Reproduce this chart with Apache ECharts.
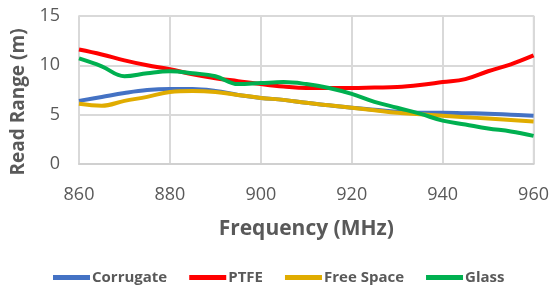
<!DOCTYPE html>
<html>
<head>
<meta charset="utf-8">
<script src="https://cdn.jsdelivr.net/npm/echarts@6/dist/echarts.min.js"></script>
<style>
html, body { margin: 0; padding: 0; background: #fff; }
#chart { width: 552px; height: 287px; }
</style>
</head>
<body>
<div id="chart"></div>
<script>
// frequency in MHz, read range in metres
var freq = [860, 865, 870, 875, 880, 885, 890, 895, 900, 905, 910, 915, 920, 925, 930, 935, 940, 945, 950, 955, 960]
var corrugate = [6.4, 6.8, 7.2, 7.5, 7.6, 7.6, 7.4, 7.0, 6.7, 6.5, 6.2, 5.95, 5.7, 5.5, 5.3, 5.2, 5.2, 5.15, 5.1, 5.0, 4.9]
var ptfe = [11.6, 11.1, 10.5, 10.0, 9.6, 9.1, 8.7, 8.4, 8.1, 7.85, 7.7, 7.7, 7.7, 7.75, 7.8, 8.0, 8.3, 8.6, 9.4, 10.1, 11.0]
var freeSpace = [6.1, 5.9, 6.4, 6.8, 7.3, 7.4, 7.3, 7.0, 6.7, 6.5, 6.2, 5.95, 5.7, 5.45, 5.2, 5.05, 4.9, 4.75, 4.6, 4.45, 4.3]
var glass = [10.7, 9.9, 8.9, 9.2, 9.4, 9.2, 8.9, 8.1, 8.2, 8.3, 8.1, 7.7, 7.1, 6.3, 5.7, 5.1, 4.4, 4.0, 3.6, 3.3, 2.85]

function pairs (ys) {
  return freq.map(function (f, i) { return [f, ys[i]] })
}

function line (name, color, ys) {
  return {
    name: name,
    type: 'line',
    smooth: 0.4,
    symbol: 'none',
    data: pairs(ys),
    lineStyle: { color: color, width: 4 },
    itemStyle: { color: color }
  }
}

var chart = echarts.init(document.getElementById('chart'))
chart.setOption({
  animation: false,
  textStyle: { fontFamily: 'Open Sans' },
  grid: {
    left: 79,
    right: 17,
    top: 16,
    bottom: 123,
    show: true,
    borderColor: '#d4d4d4',
    borderWidth: 1.5
  },
  legend: {
    top: 265,
    left: 48,
    icon: 'rect',
    itemWidth: 37,
    itemHeight: 5,
    itemGap: 22,
    textStyle: { color: '#595959', fontSize: 15, fontWeight: 'bold', padding: [0, 0, 0, -3] },
    data: ['Corrugate', 'PTFE', 'Free Space', 'Glass']
  },
  xAxis: {
    type: 'value',
    min: 860,
    max: 960,
    interval: 20,
    name: 'Frequency (MHz)',
    nameLocation: 'middle',
    nameGap: 55,
    nameTextStyle: { color: '#595959', fontSize: 21, fontWeight: 'bold' },
    axisLine: { show: true, lineStyle: { color: '#d0d0d0', width: 2 } },
    axisTick: { show: false },
    axisLabel: { color: '#595959', fontSize: 18, margin: 22 },
    splitLine: { show: true, lineStyle: { color: '#d9d9d9', width: 2 } }
  },
  yAxis: {
    type: 'value',
    min: 0,
    max: 15,
    interval: 5,
    name: 'Read Range (m)',
    nameLocation: 'middle',
    nameGap: 49,
    nameTextStyle: { color: '#595959', fontSize: 19, fontWeight: 'bold', padding: [0, 0, 0, -24] },
    axisLine: { show: false },
    axisTick: { show: false },
    axisLabel: { color: '#595959', fontSize: 18, margin: 19 },
    splitLine: { show: true, lineStyle: { color: '#d9d9d9', width: 2 } }
  },
  series: [
    line('Corrugate', '#4472c4', corrugate),
    line('PTFE', '#ff0000', ptfe),
    line('Free Space', '#e0ac00', freeSpace),
    line('Glass', '#00b050', glass)
  ]
})
</script>
</body>
</html>
